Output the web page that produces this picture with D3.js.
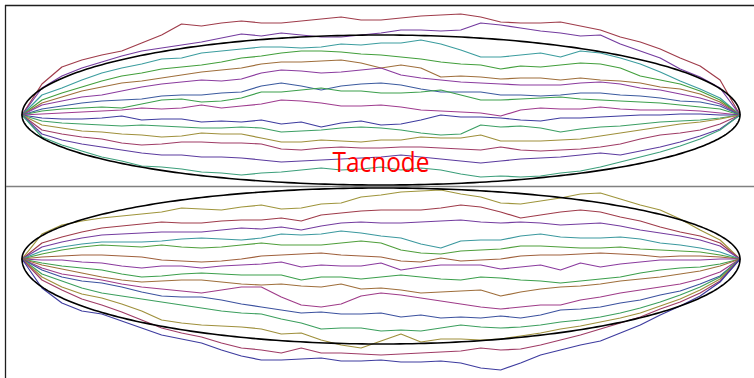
<!DOCTYPE html>
<html>
<head>
<meta charset="utf-8">
<script src="https://cdn.jsdelivr.net/npm/d3@7"></script>
<style>
    body { margin: 0; background: #fff; }
    svg { display: block; }
</style>
</head>
<body>
<script>
// time steps along each bridge (0 = left tip, 36 = right tip)
const steps = d3.range(0, 37)

// top group, heights above the tip line, listed top to bottom
const topPaths = [
    [0,31,48,55,60,64,72,80,91,89,92,94,92,92,94,96,98,95,95,97,99,100,101,98,93,92,92,93,89,85,78,73,66,57,49,35,0],
    [0,27,39,47,53,59,64,67,70,73,77,81,79,82,80,78,78,80,82,85,85,84,85,92,90,87,84,82,79,80,71,64,57,46,38,27,0],
    [0,20,27,35,42,47,51,56,57,62,64,66,68,68,67,68,71,70,72,72,75,71,65,58,58,60,62,58,64,62,57,51,43,34,26,17,0],
    [0,15,22,28,34,39,42,46,48,50,53,57,59,62,64,64,63,61,60,58,56,53,51,50,46,49,48,50,52,51,47,39,35,31,24,15,0],
    [0,12,18,24,28,32,34,37,40,43,45,47,51,53,53,54,55,52,47,50,47,38,39,38,36,37,37,35,37,35,34,32,28,26,21,13,0],
    [0,10,14,18,20,24,28,31,33,35,34,36,42,45,44,42,43,45,47,40,37,35,33,32,31,30,30,30,32,33,31,27,25,21,17,11,0],
    [0,6,9,12,14,15,16,19,20,20,22,23,29,32,29,25,29,31,32,30,26,23,23,23,20,20,19,20,22,22,20,19,17,14,13,9,0],
    [0,4,6,7,8,7,11,15,16,13,14,17,23,23,25,27,24,24,22,22,23,25,20,15,15,16,17,18,16,15,14,13,12,10,8,6,0],
    [0,1,2,3,4,5,7,6,7,10,7,9,11,15,14,12,9,9,10,8,5,4,3,2,-1,5,7,6,6,8,6,5,5,5,4,2,0],
    [0,-3,-4,-4,-3,-1,-5,-4,-4,-7,-6,-7,-5,-9,-7,-12,-8,-6,-10,-9,-5,0,-2,-2,-3,-5,-6,-3,-3,-2,-1,0,0,1,1,0,0],
    [0,-6,-8,-9,-10,-11,-10,-11,-12,-13,-13,-12,-13,-17,-16,-15,-13,-12,-13,-15,-18,-20,-19,-10,-12,-11,-13,-17,-14,-12,-11,-9,-7,-6,-5,-3,0],
    [0,-10,-13,-16,-17,-19,-20,-22,-21,-18,-19,-19,-23,-27,-27,-25,-26,-27,-25,-25,-22,-23,-23,-20,-26,-26,-26,-25,-24,-21,-18,-15,-12,-9,-7,-4,0],
    [0,-15,-19,-22,-24,-28,-30,-29,-27,-27,-28,-28,-29,-34,-35,-33,-32,-33,-33,-32,-32,-33,-34,-35,-32,-35,-36,-35,-34,-32,-29,-24,-20,-18,-15,-9,0],
    [0,-19,-25,-29,-32,-35,-38,-40,-40,-42,-42,-43,-45,-47,-46,-45,-44,-43,-42,-40,-42,-44,-46,-48,-46,-44,-43,-42,-40,-38,-40,-36,-32,-27,-21,-14,0],
    [0,-22,-30,-36,-42,-46,-51,-52,-54,-57,-58,-60,-58,-57,-55,-53,-55,-54,-52,-55,-53,-55,-59,-62,-61,-62,-61,-58,-56,-52,-47,-42,-37,-31,-24,-15,0]
]
const topHues = [0.975, 0.76, 0.503, 0.322, 0.086, 0.8, 0.614, 0.36, 0.86, 0.67, 0.4, 0.142, 0.93, 0.72, 0.44]

// bottom group, same layout
const bottomPaths = [
    [0,25,34,38,41,43,45,47,51,50,49,52,54,50,51,55,56,62,64,67,68,69,65,62,56,55,58,61,65,66,60,54,49,40,29,19,0],
    [0,16,22,27,31,33,35,37,36,36,38,39,39,41,38,44,46,48,49,49,49,51,54,52,47,41,44,47,49,47,42,38,32,27,23,16,0],
    [0,12,17,21,24,25,26,27,27,27,29,31,30,32,29,33,36,37,36,36,37,38,39,37,36,37,36,34,35,36,33,29,26,23,19,13,0],
    [0,8,12,15,17,17,17,18,20,21,20,19,21,25,24,25,28,26,23,21,15,11,18,19,19,23,25,22,21,21,22,20,16,14,11,7,0],
    [0,5,9,12,14,13,12,14,12,11,12,14,16,14,14,14,16,18,16,9,6,5,8,9,10,13,13,12,11,11,12,10,9,8,7,4,0],
    [0,2,3,4,4,3,2,-1,-2,-3,-2,0,3,4,5,6,4,3,2,-2,-3,1,-2,-1,0,3,4,4,5,6,5,4,2,3,3,2,0],
    [0,-1,-1,-3,-4,-7,-9,-7,-7,-9,-7,-6,-5,-3,-8,-6,-7,-7,-4,-11,-8,-6,-6,-6,-10,-8,-6,-11,-4,-8,-5,-3,-1,-1,-1,0,0],
    [0,-4,-7,-9,-11,-15,-18,-17,-15,-14,-15,-16,-16,-16,-21,-18,-18,-20,-18,-16,-18,-20,-21,-18,-19,-21,-22,-24,-22,-20,-18,-14,-11,-9,-8,-5,0],
    [0,-6,-10,-14,-18,-21,-23,-22,-21,-21,-23,-25,-26,-25,-27,-28,-25,-30,-29,-31,-34,-33,-32,-31,-37,-33,-30,-28,-27,-25,-22,-20,-18,-15,-12,-7,0],
    [0,-9,-15,-18,-21,-25,-28,-30,-32,-34,-31,-28,-28,-38,-46,-48,-45,-37,-34,-36,-39,-42,-45,-48,-50,-48,-46,-46,-41,-38,-34,-31,-28,-25,-20,-13,0],
    [0,-11,-18,-22,-24,-28,-33,-37,-38,-38,-41,-45,-48,-51,-54,-53,-55,-55,-54,-58,-56,-59,-58,-59,-57,-59,-56,-51,-50,-48,-44,-41,-36,-32,-25,-17,0],
    [0,-15,-22,-29,-34,-37,-40,-43,-46,-49,-52,-54,-55,-60,-64,-70,-69,-69,-72,-71,-72,-69,-66,-68,-69,-68,-66,-63,-61,-58,-54,-49,-43,-36,-28,-18,0],
    [0,-18,-28,-35,-39,-45,-52,-61,-64,-66,-67,-68,-70,-75,-74,-81,-86,-89,-82,-75,-83,-80,-80,-81,-80,-77,-74,-70,-67,-63,-59,-54,-47,-40,-31,-20,0],
    [0,-21,-31,-40,-46,-53,-61,-69,-74,-78,-84,-89,-91,-94,-89,-94,-94,-95,-96,-95,-94,-93,-92,-89,-91,-90,-86,-81,-76,-70,-64,-58,-50,-43,-34,-22,0],
    [0,-29,-44,-52,-55,-62,-69,-76,-80,-84,-91,-97,-101,-101,-100,-99,-102,-102,-101,-103,-103,-102,-104,-109,-111,-104,-96,-91,-86,-82,-74,-66,-56,-47,-37,-23,0]
]
const bottomHues = [0.15, 0.975, 0.76, 0.51, 0.3, 0.06, 0.8, 0.36, 0.086, 0.87, 0.63, 0.39, 0.142, 0.93, 0.67]

// limit shapes: half heights above / below the tip line
const topShape = {up: 80, down: 70}
const bottomShape = {up: 71, down: 85}

const title = 'Tacnode'

const width = 754
const height = 378

const svg = d3.select('body').append('svg')
    .attr('width', width)
    .attr('height', height)

const x = d3.scaleLinear()
    .domain([0, 36])
    .range([22, 740])

// one unit = one pixel, positive is up
const yTop = d3.scaleLinear().domain([0, 100]).range([115, 15])
const yBottom = d3.scaleLinear().domain([0, 100]).range([259, 159])

// panel frame
svg.append('line')
    .attr('x1', 5.5).attr('x2', 5.5)
    .attr('y1', 5).attr('y2', height)
    .attr('stroke', '#1e1e1e')
    .attr('stroke-width', 1.3)
svg.append('line')
    .attr('x1', 5).attr('x2', width)
    .attr('y1', 5.5).attr('y2', 5.5)
    .attr('stroke', '#1e1e1e')
    .attr('stroke-width', 1.3)
svg.append('line')
    .attr('x1', 6).attr('x2', width)
    .attr('y1', 186.5).attr('y2', 186.5)
    .attr('stroke', '#808080')
    .attr('stroke-width', 1.6)

drawGroup(topPaths, topHues, yTop, topShape)
drawGroup(bottomPaths, bottomHues, yBottom, bottomShape)

svg.append('text')
    .attr('x', x(18))
    .attr('y', 172)
    .attr('text-anchor', 'middle')
    .attr('font-family', 'Open Sans, Liberation Sans, sans-serif')
    .attr('font-size', 28)
    .attr('textLength', 97)
    .attr('lengthAdjust', 'spacingAndGlyphs')
    .attr('fill', '#ff0000')
    .text(title)


function drawGroup(paths, hues, y, shape) {
    const line = d3.line()
        .x((d, i) => x(steps[i]))
        .y(d => y(d))
        .curve(d3.curveLinear)

    paths.forEach((p, k) => {
        svg.append('path')
            .datum(p)
            .attr('fill', 'none')
            .attr('stroke', hueColor(hues[k]))
            .attr('stroke-width', 1.2)
            .attr('stroke-linejoin', 'round')
            .attr('d', line)
    })

    // half ellipses meeting at the two tips
    const angles = d3.range(0, 181).map(a => a * Math.PI / 180)
    const half = k => d3.line()
        .x(a => x(18 - 18 * Math.cos(a)))
        .y(a => y(k * Math.sin(a)))
    svg.append('path')
        .datum(angles)
        .attr('fill', 'none')
        .attr('stroke', '#000')
        .attr('stroke-width', 1.6)
        .attr('d', half(shape.up))
    svg.append('path')
        .datum(angles)
        .attr('fill', 'none')
        .attr('stroke', '#000')
        .attr('stroke-width', 1.6)
        .attr('d', half(-shape.down))
}

function hueColor(h) {
    // hsv(h, 0.6, 0.6) written as hsl
    return d3.hsl(h * 360, 0.45, 0.43).formatHex()
}
</script>
</body>
</html>
